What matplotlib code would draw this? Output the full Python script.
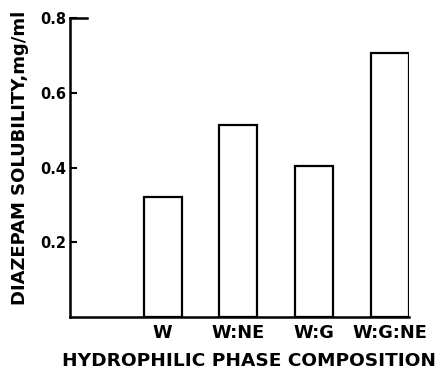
import matplotlib
matplotlib.use("Agg")
import matplotlib.pyplot as plt
import numpy as np

# diazepam solubility in each hydrophilic phase
phases = ["W", "W:NE", "W:G", "W:G:NE"]
solubility = [0.32, 0.515, 0.403, 0.706]
yticks = [0.2, 0.4, 0.6, 0.8]

plt.rcParams["font.family"] = ["DejaVu Sans"]
plt.rcParams["font.weight"] = "bold"

fig = plt.figure(figsize=(4.38, 3.74), dpi=100)
ax = fig.add_axes([0.160, 0.152, 0.774, 0.800])

x = np.arange(len(phases))
ax.bar(x, solubility, width=0.5, facecolor="white", edgecolor="black", linewidth=1.6)

ax.set_xlim(-1.22, 3.25)
ax.set_ylim(0, 0.8)
ax.spines["top"].set_visible(False)
ax.spines["right"].set_visible(False)
ax.spines["left"].set_linewidth(1.8)
ax.spines["bottom"].set_linewidth(1.8)

ax.set_yticks(yticks)
ax.set_yticklabels([f"{v:.1f}" for v in yticks], fontsize=10.5, fontweight="bold")
ax.tick_params(axis="y", direction="in", length=5, width=1.5, pad=3)
# longer mark at the top of the scale
ax.axhline(0.8, xmin=0, xmax=0.05, color="black", linewidth=1.8, clip_on=False)

ax.set_xticks(x)
ax.set_xticklabels(phases, fontsize=12.8, fontweight="bold")
ax.tick_params(axis="x", length=0, pad=5)

ax.set_ylabel("DIAZEPAM SOLUBILITY,mg/ml", fontsize=13, fontweight="bold")
ax.yaxis.set_label_coords(-0.122, 0.533)
fig.text(0.568, 0.036, "HYDROPHILIC PHASE COMPOSITION", ha="center", va="center",
         fontsize=13.3, fontweight="bold")

fig.savefig("out.png", dpi=100)
